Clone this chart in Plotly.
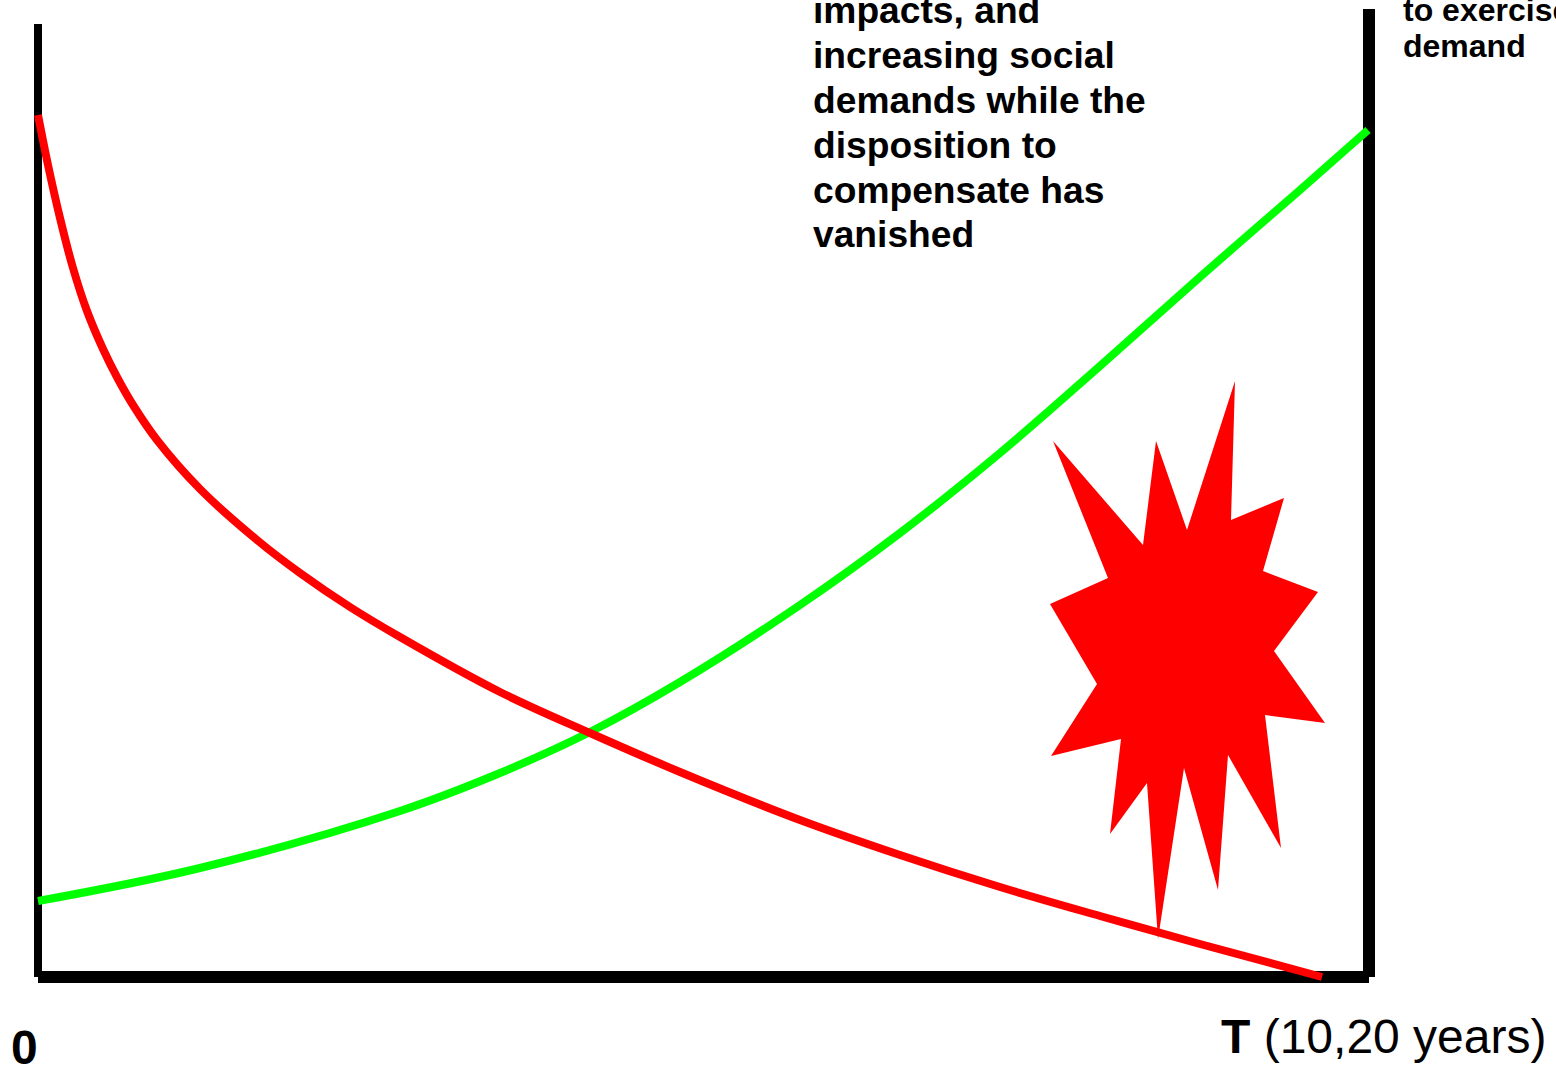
import plotly.graph_objects as go

red_x = [38,48,60,73,87,103,118,133,157,200,257,300,350,400,500,590,680,800,900,1000,1100,1200,1322]
red_y = [115,165,218,268,311,349,379,405,440,489,540,573,607,637,692,733,772,820,855,887,916,944,977]
green_x = [38,200,400,500,590,680,800,900,1000,1100,1200,1300,1368]
green_y = [901,868,811,773,732,682,605,533,453,366,277,190,130]
star_x = [1053,1143,1156,1187,1235,1231,1284,1263,1318,1274,1325,1265,1281,1228,1218,1184,1158,1147,1110,1121,1051,1097,1050,1108,1053]
star_y = [441,545,441,530,381,520,498,571,592,651,723,715,848,755,890,768,939,783,834,739,756,684,604,578,441]
left_x = [38,38]; left_y = [24,977]
bottom_x = [38,1369]; bottom_y = [977,977]
right_x = [1369,1369]; right_y = [9,977]
mid_lines = ["impacts, and","increasing social","demands while the","disposition to","compensate has","vanished"]
mid_y = [10,55,100,145,190,234]
side_lines = ["to exercise","demand"]
side_y = [10,46]

fig = go.Figure()
BLACK = "#000000"
fig.add_trace(go.Scatter(x=left_x,y=left_y,mode="lines",line=dict(color=BLACK,width=8)))
fig.add_trace(go.Scatter(x=right_x,y=right_y,mode="lines",line=dict(color=BLACK,width=12)))
fig.add_trace(go.Scatter(x=bottom_x,y=bottom_y,mode="lines",line=dict(color=BLACK,width=12)))
fig.add_trace(go.Scatter(x=star_x,y=star_y,mode="lines",fill="toself",fillcolor="#ff0000",line=dict(color="#ff0000",width=0)))
fig.add_trace(go.Scatter(x=green_x,y=green_y,mode="lines",line=dict(color="#00ff00",width=8,shape="spline")))
fig.add_trace(go.Scatter(x=red_x,y=red_y,mode="lines",line=dict(color="#ff0000",width=8,shape="spline")))

F = "Liberation Sans"
def note(x,y,t,size):
    fig.add_annotation(x=x,y=y,text=t,showarrow=False,xanchor="left",yanchor="middle",
                       font=dict(family=F,size=size,color=BLACK))
for t,y in zip(mid_lines,mid_y): note(811,y,f"<b>{t}</b>",37.2)
for t,y in zip(side_lines,side_y): note(1401,y,f"<b>{t}</b>",32)
note(9,1047,"<b>0</b>",48)
note(1219,1036,"<b>T</b> (10,20 years)",48)

fig.update_xaxes(range=[0,1556],visible=False)
fig.update_yaxes(range=[1074,0],visible=False)
fig.update_layout(width=1556,height=1074,margin=dict(l=0,r=0,t=0,b=0),showlegend=False,
                  plot_bgcolor="#ffffff",paper_bgcolor="#ffffff")
fig.write_html("out.html",config=dict(displayModeBar=False),
               post_script="document.body.style.margin='0';document.body.style.overflow='hidden';")
